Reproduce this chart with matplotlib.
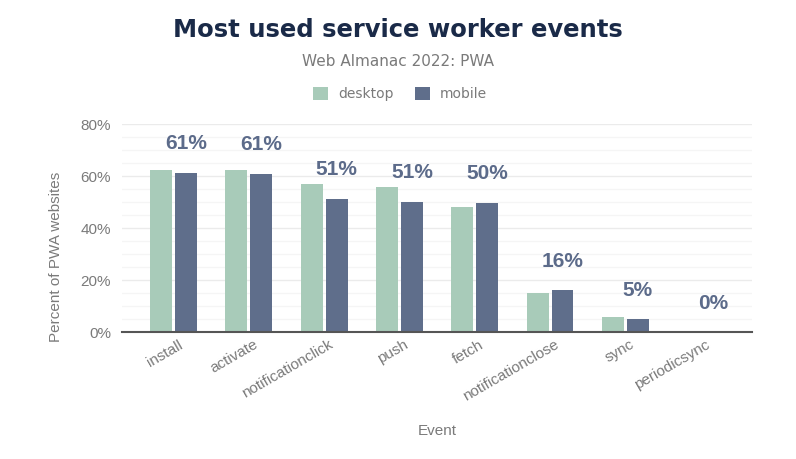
import numpy as np
import matplotlib.pyplot as plt

events = ["install", "activate", "notificationclick", "push", "fetch",
          "notificationclose", "sync", "periodicsync"]
desktop = [62.3, 62.3, 56.9, 55.9, 48.2, 14.9, 5.9, 0.0]
mobile = [61.3, 60.8, 51.2, 50.1, 49.7, 16.0, 4.9, 0.0]
labels = ["61%", "61%", "51%", "51%", "50%", "16%", "5%", "0%"]

c_desk = "#a8cbb9"
c_mob = "#5f6e8b"
grey = "#7a7a7a"

fig = plt.figure(figsize=(7.96, 4.59), dpi=100)
ax = fig.add_axes([122/796, 1 - 332/459, 630/796, 208/459])

x = np.arange(len(events))
w = 0.29
ax.bar(x - w/2 - 0.02, desktop, w, color=c_desk, label="desktop", zorder=3)
ax.bar(x + w/2 + 0.02, mobile, w, color=c_mob, label="mobile", zorder=3)

for xi, m, lab in zip(x, mobile, labels):
    ax.annotate(lab, (xi + w/2 + 0.02, m), xytext=(0, 14), textcoords="offset points",
                ha="center", va="bottom", fontsize=15, fontweight="bold",
                color="#5c6b8a", family="Liberation Sans")

ax.set_yticks([0, 20, 40, 60, 80])
ax.set_yticks(np.arange(0, 81, 5), minor=True)
ax.set_yticklabels(["0%", "20%", "40%", "60%", "80%"], family="Liberation Sans")
ax.set_ylim(0, 80)
ax.set_xlim(-0.684, 7.68)
ax.grid(axis="y", which="major", color="#ebebeb", lw=1, zorder=0)
ax.grid(axis="y", which="minor", color="#f5f5f5", lw=1, zorder=0)

# labels sit a little right of the group centre
ax.set_xticks(x + 0.15)
ax.set_xticklabels(events, rotation=30, ha="right", family="Liberation Sans")
ax.tick_params(axis="both", which="both", length=0, labelsize=11, labelcolor=grey)
ax.tick_params(axis="x", pad=4)
ax.tick_params(axis="y", pad=8)
for s in ["top", "right", "left"]:
    ax.spines[s].set_visible(False)
ax.spines["bottom"].set_color("#555555")
ax.spines["bottom"].set_linewidth(1.5)
ax.spines["bottom"].set_zorder(4)

ax.set_ylabel("Percent of PWA websites", color=grey, fontsize=11, family="Liberation Sans")
ax.yaxis.set_label_coords(-0.094, 0.36)
ax.set_xlabel("Event", color=grey, fontsize=11, family="Liberation Sans")
ax.xaxis.set_label_coords(0.5, -0.442)

fig.text(0.5, 1 - 30/459, "Most used service worker events", ha="center", va="center",
         fontsize=17.5, fontweight="bold", color="#1a2a48", family="DejaVu Sans")
fig.text(0.5, 1 - 62/459, "Web Almanac 2022: PWA", ha="center", va="center",
         fontsize=11, color=grey)
fig.legend(loc="center", bbox_to_anchor=(0.5025, 1 - 94/459), ncol=2, frameon=False,
           fontsize=10, labelcolor=grey, handlelength=1.1, handleheight=1.1,
           columnspacing=1.5, handletextpad=0.72)

fig.savefig("out.png", dpi=100)
